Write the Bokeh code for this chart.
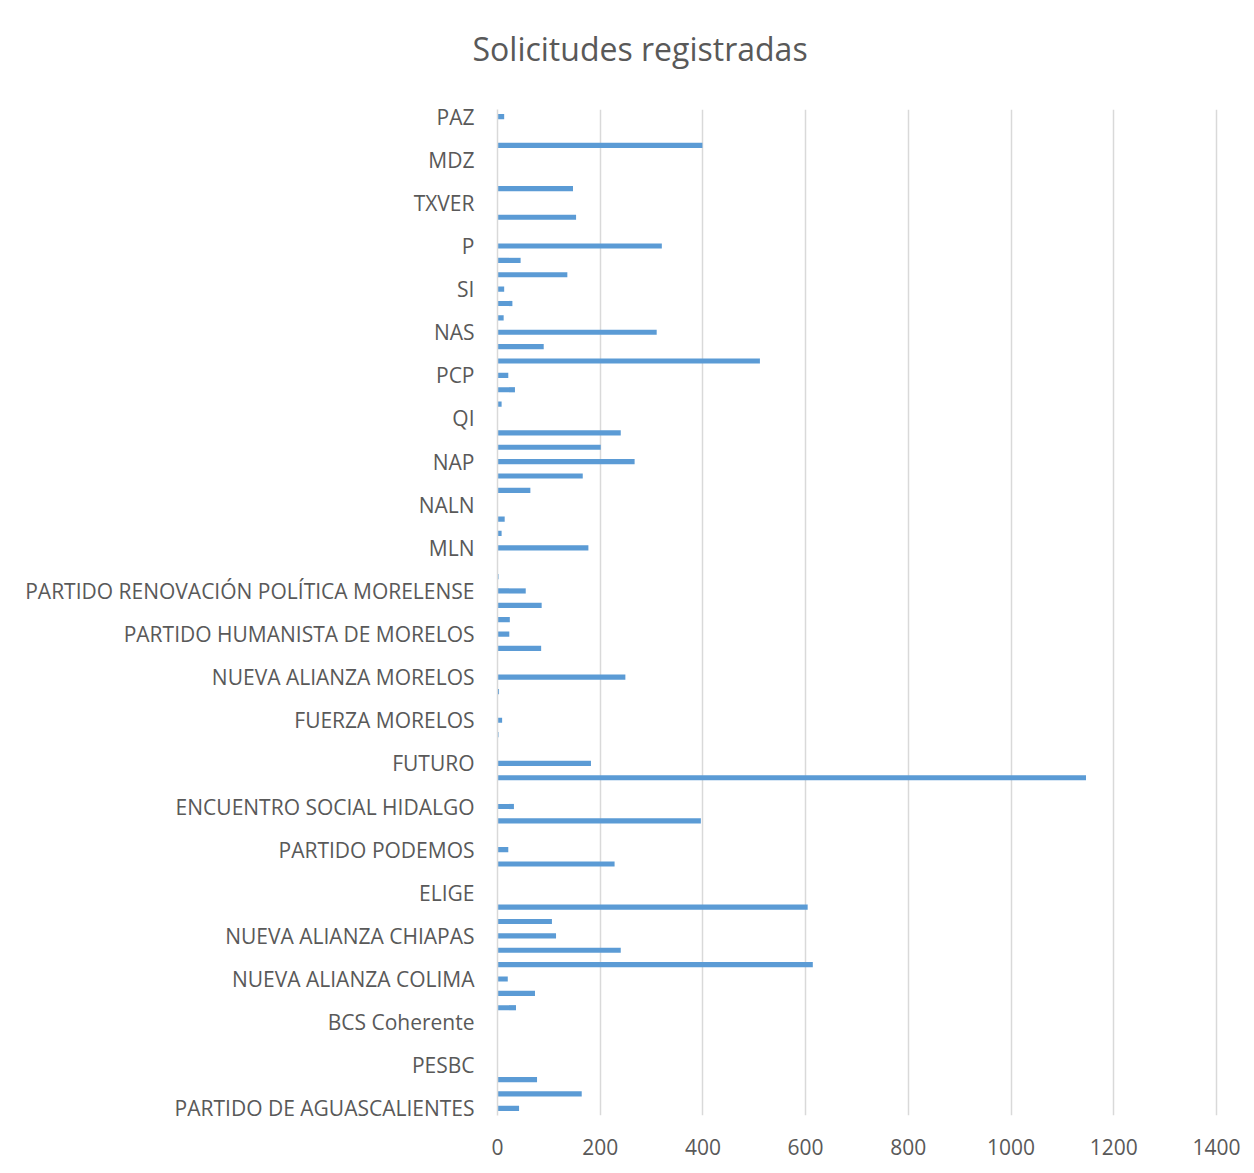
from bokeh.plotting import figure
from bokeh.models import Range1d, FixedTicker, ColumnDataSource, Title
from bokeh.embed import file_html
from bokeh.resources import INLINE

TITLE = "Solicitudes registradas"

# Shown category labels (every third category, from bottom to top)
labels = [
    "PARTIDO DE AGUASCALIENTES", "PESBC", "BCS Coherente", "NUEVA ALIANZA COLIMA",
    "NUEVA ALIANZA CHIAPAS", "ELIGE", "PARTIDO PODEMOS", "ENCUENTRO SOCIAL HIDALGO",
    "FUTURO", "FUERZA MORELOS", "NUEVA ALIANZA MORELOS", "PARTIDO HUMANISTA DE MORELOS",
    "PARTIDO RENOVACIÓN POLÍTICA MORELENSE", "MLN", "NALN", "NAP", "QI", "PCP",
    "NAS", "SI", "P", "TXVER", "MDZ", "PAZ",
]

# Values of all 70 categories, from bottom (index 0) to top (index 69)
values = [
    42, 164, 77, 0, 0, 0, 0, 36, 73, 20,
    614, 240, 114, 106, 604, 0, 0, 228, 21, 0,
    396, 32, 0, 1146, 182, 0, 2, 9, 0, 3,
    249, 0, 85, 23, 24, 86, 55, 2, 0, 177,
    8, 14, 0, 64, 166, 267, 201, 240, 0, 8,
    34, 21, 511, 90, 310, 12, 29, 13, 136, 45,
    320, 0, 153, 0, 147, 0, 0, 399, 0, 13,
]

x_ticks = [0, 200, 400, 600, 800, 1000, 1200, 1400]

pos = list(range(len(values)))
src = ColumnDataSource(dict(y=pos, v=values))

FONT = "Open Sans"
GREY = "#595959"

p = figure(width=1250, height=1165, output_backend="svg", toolbar_location=None,
           x_range=Range1d(0, 1404), y_range=Range1d(-0.5, len(values) - 0.5),
           min_border_left=497, min_border_top=109, min_border_right=32,
           min_border_bottom=50)

p.hbar(y="y", right="v", left=0, height=0.36, source=src,
       fill_color="#5B9BD5", line_color=None)

# spacer between the chart title and the plot frame
p.add_layout(Title(text=" ", text_font=FONT, text_font_size="21px",
                   standoff=10), "above")
# chart title
p.add_layout(Title(text=TITLE, text_font=FONT, text_font_size="32px",
                   text_font_style="normal", text_color=GREY,
                   align="left", offset=-25, standoff=0), "above")

p.outline_line_color = None
p.background_fill_color = "white"
p.border_fill_color = "white"

# x axis
p.xaxis.ticker = FixedTicker(ticks=x_ticks)
p.xaxis.axis_line_color = None
p.xaxis.major_tick_line_color = None
p.xaxis.minor_tick_line_color = None
p.xaxis.major_label_text_font = FONT
p.xaxis.major_label_text_font_size = "21px"
p.xaxis.major_label_text_color = GREY
p.xaxis.major_label_standoff = 17

# y axis
p.yaxis.ticker = FixedTicker(ticks=[3 * i for i in range(len(labels))])
p.yaxis.major_label_overrides = {3 * i: lab for i, lab in enumerate(labels)}
p.yaxis.axis_line_color = "#D9D9D9"
p.yaxis.axis_line_width = 1.5
p.yaxis.major_tick_line_color = None
p.yaxis.minor_tick_line_color = None
p.yaxis.major_label_text_font = FONT
p.yaxis.major_label_text_font_size = "21px"
p.yaxis.major_label_text_color = GREY
p.yaxis.major_label_standoff = 17

p.xgrid.grid_line_color = "#D9D9D9"
p.xgrid.grid_line_width = 1.5
p.ygrid.grid_line_color = None

open("out.html", "w").write(file_html(p, INLINE))
